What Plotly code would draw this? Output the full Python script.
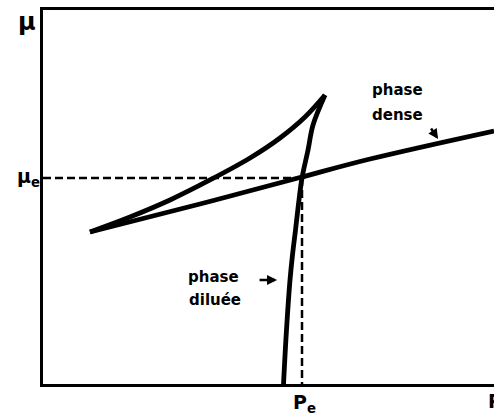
import plotly.graph_objects as go

# Chemical potential mu versus pressure P (arbitrary units)
# Dilute-phase branch, from the bottom up to the upper cusp
dilute_p = [5.333, 5.399, 5.477, 5.532, 5.599, 5.676, 5.743, 5.876, 5.987, 6.253]
dilute_mu = [0.0, 1.444, 2.781, 3.449, 4.118, 4.920, 5.508, 6.257, 6.925, 7.727]

# Unstable branch, from the upper cusp back to the lower-left cusp
unstable_p = [6.253, 5.809, 5.255, 4.590, 3.703, 2.816, 1.929, 1.042]
unstable_mu = [7.727, 7.139, 6.578, 6.043, 5.455, 4.920, 4.465, 4.064]

# Dense-phase branch, from the lower-left cusp outwards
dense_p = [1.042, 3.481, 5.654, 7.251, 10.0]
dense_mu = [4.064, 4.813, 5.508, 6.016, 6.765]

# Coexistence point
p_e = 5.743
mu_e = 5.51

fig = go.Figure()

for xs, ys in [(dilute_p, dilute_mu), (unstable_p, unstable_mu), (dense_p, dense_mu)]:
    fig.add_trace(go.Scatter(
        x=xs, y=ys, mode="lines",
        line=dict(color="black", width=4.8, shape="spline", smoothing=1.0),
        hoverinfo="skip", showlegend=False, cliponaxis=True,
    ))

# Dashed guides to the coexistence point
fig.add_trace(go.Scatter(
    x=[0, p_e], y=[mu_e, mu_e], mode="lines",
    line=dict(color="black", width=2.5, dash="8px,4px"),
    hoverinfo="skip", showlegend=False,
))
fig.add_trace(go.Scatter(
    x=[p_e, p_e], y=[mu_e, 0], mode="lines",
    line=dict(color="black", width=2.5, dash="8px,4px"),
    hoverinfo="skip", showlegend=False,
))

font_lbl = dict(family="DejaVu Sans", size=15, color="black", weight=700)
font_axis = dict(family="DejaVu Sans", size=24, color="black", weight=700)
font_sub = dict(family="DejaVu Sans", size=19, color="black", weight=700)

annotations = [
    dict(text="phase", x=7.85, y=7.86, xref="x", yref="y", showarrow=False, font=font_lbl),
    dict(text="dense", x=7.87, y=7.19, xref="x", yref="y", showarrow=False, font=font_lbl),
    dict(text="phase", x=3.79, y=2.86, xref="x", yref="y", showarrow=False, font=font_lbl),
    dict(text="diluée", x=3.81, y=2.25, xref="x", yref="y", showarrow=False, font=font_lbl),
    # small arrows from the labels to the curves
    dict(text="", x=8.76, y=6.55, xref="x", yref="y", ax=-8, ay=-12,
         showarrow=True, arrowhead=2, arrowsize=0.8, arrowwidth=2.5, arrowcolor="black", standoff=0),
    dict(text="", x=5.19, y=2.78, xref="x", yref="y", ax=-19, ay=0,
         showarrow=True, arrowhead=2, arrowsize=0.8, arrowwidth=2.5, arrowcolor="black", standoff=0),
    # axis labels
    dict(text="μ", x=-0.06, y=1.01, xref="paper", yref="paper", showarrow=False, font=font_axis),
    dict(text="μ<sub>e</sub>", x=-0.062, y=mu_e, xref="paper", yref="y", showarrow=False, font=font_sub),
    dict(text="P<sub>e</sub>", x=p_e + 0.06, y=-0.09, xref="x", yref="paper", showarrow=False, font=font_sub),
    dict(text="P", x=0.983, y=-0.08, xref="paper", yref="paper", xanchor="left", showarrow=False, font=font_sub),
]

fig.update_layout(
    width=494, height=420,
    margin=dict(l=43, r=0, t=10, b=36),
    paper_bgcolor="white", plot_bgcolor="white",
    annotations=annotations,
    xaxis=dict(range=[0, 10], showline=True, linewidth=3, linecolor="black", mirror=True,
               showgrid=False, zeroline=False, showticklabels=False, ticks=""),
    yaxis=dict(range=[0, 10], showline=True, linewidth=3, linecolor="black", mirror=False,
               showgrid=False, zeroline=False, showticklabels=False, ticks=""),
)

fig.write_html("out.html")
